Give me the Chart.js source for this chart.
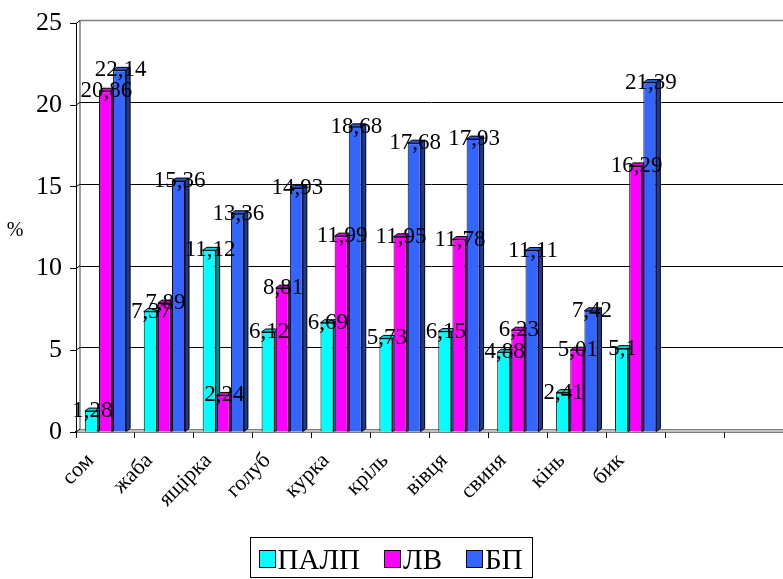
<!DOCTYPE html>
<html>
<head>
<meta charset="utf-8">
<script src="https://cdn.jsdelivr.net/npm/chart.js@4/dist/chart.umd.min.js"></script>
</head>
<body style="margin:0">
<canvas id="c" width="783" height="579"></canvas>
<canvas id="warm" width="10" height="10" style="display:none"></canvas>
<script>
// Categories (two trailing empty slots keep the floor running to the right edge)
const categories = ['сом', 'жаба', 'ящірка', 'голуб', 'курка', 'кріль', 'вівця', 'свиня', 'кінь', 'бик', '', ''];
const seriesNames = ['ПАЛП', 'ЛВ', 'БП'];
const palp = [1.28, 7.37, 11.12, 6.12, 6.69, 5.73, 6.15, 4.88, 2.41, 5.1];
const lv   = [20.86, 7.89, 2.24, 8.81, 11.99, 11.95, 11.78, 6.23, 5.01, 16.29];
const bp   = [22.14, 15.36, 13.36, 14.93, 18.68, 17.68, 17.93, 11.11, 7.42, 21.39];
const yTicks = [0, 5, 10, 15, 20, 25];

const FAMILY = '"Liberation Serif"';
const frontColors = ['#00FFFF', '#FF00FF', '#3366FF'];
const topColors   = ['#00D8D8', '#D800D8', '#2B57DD'];
const sideColors  = ['#008C8C', '#8C008C', '#1C3A96'];
const DX = 4, DY = 3;   // depth offset of the 3-D faces

// make sure the serif face is resolved before the chart draws
const warm = document.getElementById('warm').getContext('2d');
warm.font = '30px ' + FAMILY;
warm.fillText('ПАЛП сом 22,14', 0, 8);

function fmt(v) { return String(v).replace('.', ','); }

// Back wall, floor and gridlines; bars with their 3-D faces; value labels
const wallPlugin = {
  id: 'wall',
  beforeDatasetsDraw(chart) {
    const { ctx, chartArea: a, scales: { y } } = chart;
    const L = a.left, R = chart.width;
    const y0 = y.getPixelForValue(yTicks[0]);
    const yTop = y.getPixelForValue(yTicks[yTicks.length - 1]);
    ctx.save();
    ctx.fillStyle = '#C0C0C0';
    ctx.beginPath();
    ctx.moveTo(L, y0); ctx.lineTo(L + DX, y0 - DY); ctx.lineTo(R, y0 - DY); ctx.lineTo(R, y0);
    ctx.closePath(); ctx.fill();
    ctx.strokeStyle = '#808080'; ctx.lineWidth = 1;
    ctx.beginPath(); ctx.moveTo(L + DX, y0 - DY + 0.5); ctx.lineTo(R, y0 - DY + 0.5); ctx.stroke();
    ctx.lineWidth = 1.5;
    ctx.beginPath();
    ctx.moveTo(L + DX, y0 - DY);
    ctx.lineTo(L + DX, yTop - DY);
    ctx.lineTo(R, yTop - DY);
    ctx.stroke();
    ctx.strokeStyle = '#000'; ctx.lineWidth = 1;
    yTicks.forEach(v => {
      const py = y.getPixelForValue(v);
      ctx.beginPath(); ctx.moveTo(L, py); ctx.lineTo(L + DX, py - DY); ctx.stroke();
      if (v === yTicks[0] || v === yTicks[yTicks.length - 1]) return;
      const gy = Math.round(py - DY) + 0.5;
      ctx.beginPath(); ctx.moveTo(L + DX, gy); ctx.lineTo(R, gy); ctx.stroke();
    });
    ctx.restore();
  },
  beforeDatasetDraw() { return false; },
  afterDatasetsDraw(chart) {
    const ctx = chart.ctx;
    const area = chart.chartArea;
    ctx.save();
    chart.data.datasets.forEach((ds, di) => {
      const meta = chart.getDatasetMeta(di);
      meta.data.forEach((bar, i) => {
        const v = ds.data[i];
        if (v === undefined || v === null) return;
        bar.draw(ctx, area);
        const { x, y, base, width } = bar.getProps(['x', 'y', 'base', 'width'], true);
        const l = x - width / 2, r = x + width / 2;
        ctx.lineWidth = 1; ctx.strokeStyle = '#000';
        ctx.beginPath();
        ctx.moveTo(l, y); ctx.lineTo(l + DX, y - DY); ctx.lineTo(r + DX, y - DY); ctx.lineTo(r, y);
        ctx.closePath();
        ctx.fillStyle = topColors[di]; ctx.fill(); ctx.stroke();
        ctx.beginPath();
        ctx.moveTo(r, y); ctx.lineTo(r + DX, y - DY); ctx.lineTo(r + DX, base - DY); ctx.lineTo(r, base);
        ctx.closePath();
        ctx.fillStyle = sideColors[di]; ctx.fill(); ctx.stroke();
      });
    });
    ctx.fillStyle = '#000';
    ctx.font = '23px ' + FAMILY;
    ctx.textAlign = 'center';
    ctx.textBaseline = 'middle';
    chart.data.datasets.forEach((ds, di) => {
      const meta = chart.getDatasetMeta(di);
      meta.data.forEach((bar, i) => {
        const v = ds.data[i];
        if (v === undefined || v === null) return;
        ctx.fillText(fmt(v), bar.x + 1, bar.y);
      });
    });
    ctx.restore();
  }
};

// Axis unit and boxed legend
const extrasPlugin = {
  id: 'extras',
  afterDraw(chart) {
    const { ctx, chartArea: a } = chart;
    ctx.save();
    ctx.fillStyle = '#000';
    ctx.font = '20px ' + FAMILY;
    ctx.textAlign = 'center';
    ctx.textBaseline = 'middle';
    ctx.fillText('%', 15, (a.top + a.bottom) / 2 + 3);

    ctx.font = '29px ' + FAMILY;
    ctx.textAlign = 'left';
    ctx.textBaseline = 'alphabetic';
    const sw = 16, sh = 17, gap = 3, itemGap = 24, padL = 8, padR = 10;
    const widths = seriesNames.map(n => ctx.measureText(n).width);
    let total = padL + padR + itemGap * (seriesNames.length - 1);
    widths.forEach(w => { total += sw + gap + w; });
    const boxL = Math.round(chart.width / 2 - total / 2) + 0.5;
    const boxT = chart.height - 42 + 0.5;
    const boxB = chart.height - 1.5;
    ctx.strokeStyle = '#000'; ctx.lineWidth = 1;
    ctx.strokeRect(boxL, boxT, Math.round(total), boxB - boxT);
    let x = boxL + padL;
    const base = boxB - 8.5;
    seriesNames.forEach((n, i) => {
      const sx = Math.round(x) + 0.5, sy = Math.round(base - 19) + 0.5;
      ctx.fillStyle = frontColors[i];
      ctx.fillRect(sx, sy, sw, sh);
      ctx.strokeStyle = '#000';
      ctx.strokeRect(sx, sy, sw, sh);
      ctx.fillStyle = '#000';
      ctx.fillText(n, x + sw + gap, base);
      x += sw + gap + widths[i] + itemGap;
    });
    ctx.restore();
  }
};

new Chart(document.getElementById('c'), {
  type: 'bar',
  data: {
    labels: categories,
    datasets: [
      { label: seriesNames[0], data: palp, backgroundColor: frontColors[0] },
      { label: seriesNames[1], data: lv,   backgroundColor: frontColors[1] },
      { label: seriesNames[2], data: bp,   backgroundColor: frontColors[2] }
    ]
  },
  options: {
    responsive: false,
    animation: false,
    layout: { padding: { top: 4, right: 0, bottom: 0, left: 0 } },
    datasets: {
      bar: {
        categoryPercentage: 0.72,
        barPercentage: 0.92,
        borderWidth: 1,
        borderColor: '#000'
      }
    },
    plugins: {
      legend: { display: false },
      tooltip: { enabled: false }
    },
    scales: {
      x: {
        grid: { display: true, drawOnChartArea: false, offset: true, tickLength: 6, color: '#000' },
        border: { display: true, color: '#000', width: 1.5 },
        ticks: {
          autoSkip: false, minRotation: 45, maxRotation: 45, padding: 10, labelOffset: -15,
          color: '#000', font: { family: FAMILY, size: 22 }
        },
        afterFit(scale) { scale.height = 147; }
      },
      y: {
        min: 0, max: 25,
        grid: { display: true, drawOnChartArea: false, tickLength: 6, color: '#000' },
        border: { display: true, color: '#000', width: 1 },
        ticks: {
          stepSize: 5, padding: 8, color: '#000',
          font: { family: FAMILY, size: 26 }
        },
        afterFit(scale) { scale.width = 76; }
      }
    }
  },
  plugins: [wallPlugin, extrasPlugin]
});
</script>
</body>
</html>
